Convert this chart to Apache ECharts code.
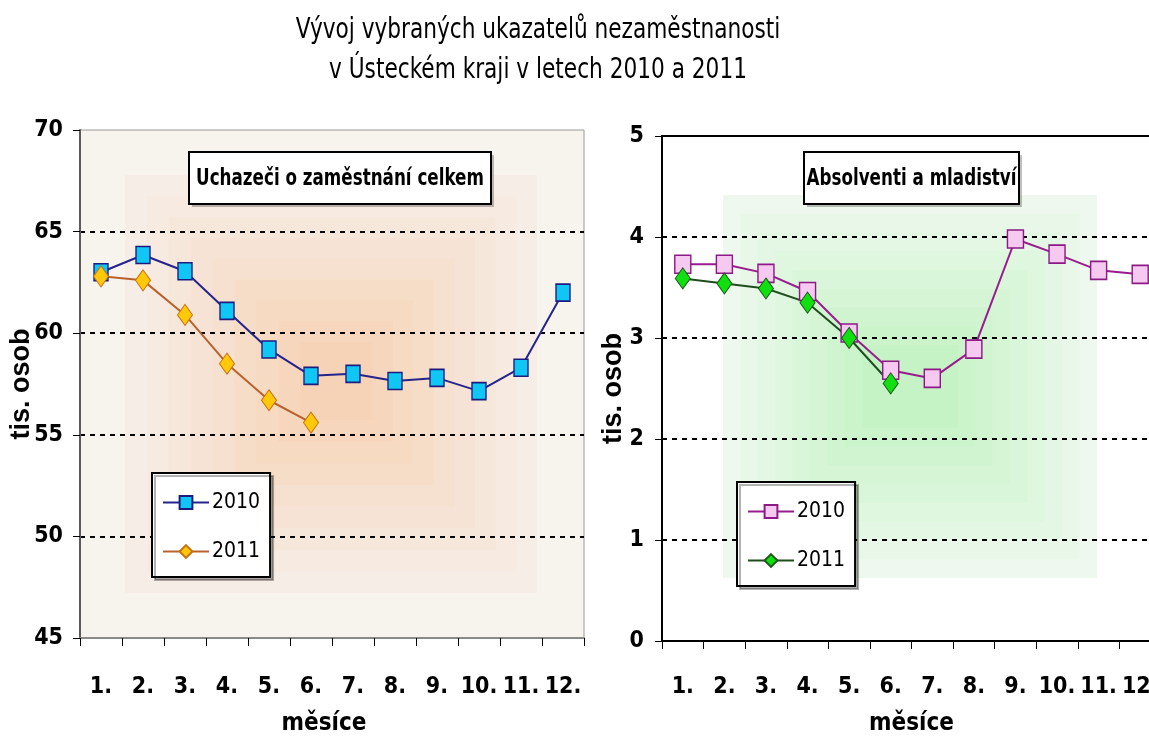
<!DOCTYPE html>
<html lang="cs">
<head>
<meta charset="UTF-8">
<title>Vývoj vybraných ukazatelů nezaměstnanosti</title>
<script src="https://cdn.jsdelivr.net/npm/echarts@6/dist/echarts.min.js"></script>
<style>
  html, body { margin: 0; padding: 0; background: #fff; }
  #chart { width: 1149px; height: 737px; }
</style>
</head>
<body>
<div id="chart"></div>
<script>
// data (tis. osob)
const months = ['1.', '2.', '3.', '4.', '5.', '6.', '7.', '8.', '9.', '10.', '11.', '12.'];
const uchazeci2010 = [63.0, 63.85, 63.05, 61.1, 59.2, 57.9, 58.0, 57.65, 57.8, 57.15, 58.3, 62.0];
const uchazeci2011 = [62.8, 62.6, 60.9, 58.5, 56.7, 55.6];
const absolventi2010 = [3.73, 3.73, 3.64, 3.46, 3.05, 2.68, 2.60, 2.89, 3.98, 3.83, 3.67, 3.63];
const absolventi2011 = [3.59, 3.54, 3.49, 3.35, 3.00, 2.55];

const narrow = "'Liberation Sans Narrow', 'DejaVu Sans Condensed', 'Liberation Sans', sans-serif";

// plot boxes
const L = { x: 80, y: 130, w: 504, h: 508 };
const R = { x: 662, y: 136, w: 499, h: 505 };

function mix(a, b, t) {
  const pa = [1, 3, 5].map(i => parseInt(a.substr(i, 2), 16));
  const pb = [1, 3, 5].map(i => parseInt(b.substr(i, 2), 16));
  return 'rgb(' + pa.map((v, i) => Math.round(v + (pb[i] - v) * t)).join(',') + ')';
}

// stepped "rectangle gradient" fill like the old office charts
function nested(outer, inner, c0, c1, n) {
  const out = [];
  for (let i = 0; i < n; i++) {
    const t = i / (n - 1);
    const x0 = outer[0] + (inner[0] - outer[0]) * t;
    const y0 = outer[1] + (inner[1] - outer[1]) * t;
    const x1 = outer[2] + (inner[2] - outer[2]) * t;
    const y1 = outer[3] + (inner[3] - outer[3]) * t;
    out.push({
      type: 'rect', z: -10, silent: true,
      shape: { x: x0, y: y0, width: x1 - x0, height: y1 - y0 },
      style: { fill: mix(c0, c1, t) }
    });
  }
  return out;
}

function box(x, y, w, h, text) {
  return {
    type: 'group', z: 20,
    children: [
      { type: 'rect', shape: { x: x + 3, y: y + 3, width: w, height: h }, style: { fill: 'rgba(0,0,0,0.25)' } },
      { type: 'rect', shape: { x: x, y: y, width: w, height: h }, style: { fill: '#fff', stroke: '#000', lineWidth: 2 } },
      { type: 'text', x: x + w / 2, y: y + h / 2 + 1, scaleX: 0.81,
        style: { text: text, font: 'bold 23px ' + narrow, fill: '#000', align: 'center', verticalAlign: 'middle' } }
    ]
  };
}

const graphics = [].concat(
  [{ type: 'rect', z: -11, silent: true, shape: { x: L.x, y: L.y, width: L.w, height: L.h }, style: { fill: '#f6f4ec' } }],
  nested([125, 175, 537, 593], [300, 342, 372, 420], '#f6ede7', '#f6d3b6', 9),
  nested([723, 195, 1097, 578], [862, 345, 958, 428], '#eef8ee', '#c6f3c6', 9),
  [
    { type: 'text', x: 538, y: 11, z: 20, scaleX: 0.86,
      style: { text: 'Vývoj vybraných ukazatelů nezaměstnanosti\nv Ústeckém kraji v letech 2010 a 2011',
        font: '28px ' + narrow, fill: '#000', align: 'center', lineHeight: 40 } },
    box(189, 152, 302, 52, 'Uchazeči o zaměstnání celkem'),
    box(804, 152, 215, 52, 'Absolventi a mladiství')
  ]
);

const tickFont = { fontFamily: narrow, fontWeight: 'bold', fontSize: 23, color: '#000' };
const nameFont = { fontFamily: "'Liberation Sans', Arial, sans-serif", fontWeight: 'bold', fontSize: 27, color: '#000' };
const monthName = { fontFamily: narrow, fontWeight: 'bold', fontSize: 24, color: '#000' };
const dashed = { show: true, showMinLine: false, showMaxLine: false, lineStyle: { type: [5, 5], color: '#000', width: 2 } };

function legend(x, y, names) {
  return {
    orient: 'vertical', left: x, top: y, data: names,
    backgroundColor: '#fff', borderColor: '#000', borderWidth: 2,
    padding: [19, 10, 15, 10], itemGap: 28, itemWidth: 46, itemHeight: 16,
    shadowColor: 'rgba(0,0,0,0.3)', shadowOffsetX: 3, shadowOffsetY: 3, shadowBlur: 0,
    formatter: n => n.slice(-4),
    textStyle: { fontFamily: narrow, fontSize: 21, color: '#000', padding: [0, 0, 0, -2] }
  };
}

const option = {
  animation: false,
  graphic: graphics,
  legend: [
    legend(152, 473, ['U 2010', 'U 2011']),
    legend(737, 482, ['A 2010', 'A 2011'])
  ],
  grid: [
    { left: L.x, top: L.y, width: L.w, height: L.h, show: true, borderColor: '#9a9a9a', borderWidth: 1, outerBoundsMode: 'none', containLabel: false },
    { left: R.x, top: R.y, width: R.w, height: R.h, show: true, borderColor: '#000', borderWidth: 2, outerBoundsMode: 'none', containLabel: false }
  ],
  xAxis: [
    { gridIndex: 0, type: 'category', data: months, boundaryGap: true,
      name: 'měsíce', nameLocation: 'middle', nameGap: 74, nameMoveOverlap: false,
      nameTextStyle: Object.assign({ padding: [0, 16, 0, 0] }, monthName),
      axisLine: { lineStyle: { color: '#8a8a8a', width: 2 } },
      axisTick: { show: true, length: 8, lineStyle: { color: '#000', width: 1 } },
      axisLabel: Object.assign({ margin: 38, interval: 0 }, tickFont) },
    { gridIndex: 1, type: 'category', data: months, boundaryGap: true,
      name: 'měsíce', nameLocation: 'middle', nameGap: 71, nameMoveOverlap: false,
      nameTextStyle: monthName,
      axisLine: { lineStyle: { color: '#000', width: 2 } },
      axisTick: { show: true, length: 8, lineStyle: { color: '#000', width: 1 } },
      axisLabel: Object.assign({ margin: 35, interval: 0 }, tickFont) }
  ],
  yAxis: [
    { gridIndex: 0, type: 'value', min: 45, max: 70, interval: 5,
      name: 'tis. osob', nameLocation: 'middle', nameGap: 45, nameMoveOverlap: false, nameTextStyle: nameFont,
      axisLine: { show: true, lineStyle: { color: '#5a5a5a', width: 2 } },
      axisTick: { show: true, length: 7, lineStyle: { color: '#000' } },
      axisLabel: Object.assign({ margin: 17 }, tickFont),
      splitLine: dashed },
    { gridIndex: 1, type: 'value', min: 0, max: 5, interval: 1,
      name: 'tis. osob', nameLocation: 'middle', nameGap: 35, nameMoveOverlap: false, nameTextStyle: nameFont,
      axisLine: { show: true, lineStyle: { color: '#000', width: 2 } },
      axisTick: { show: true, length: 7, lineStyle: { color: '#000' } },
      axisLabel: Object.assign({ margin: 18 }, tickFont),
      splitLine: dashed }
  ],
  series: [
    { name: 'U 2010', type: 'line', xAxisIndex: 0, yAxisIndex: 0, data: uchazeci2010,
      symbol: 'rect', symbolSize: [14, 17],
      lineStyle: { color: '#26248c', width: 2 },
      itemStyle: { color: '#10c6f5', borderColor: '#1c1c80', borderWidth: 1.5 } },
    { name: 'U 2011', type: 'line', xAxisIndex: 0, yAxisIndex: 0, data: uchazeci2011,
      symbol: 'diamond', symbolSize: [15, 21],
      lineStyle: { color: '#b8622e', width: 2 },
      itemStyle: { color: '#ffc808', borderColor: '#c87010', borderWidth: 1 } },
    { name: 'A 2010', type: 'line', xAxisIndex: 1, yAxisIndex: 1, data: absolventi2010,
      symbol: 'rect', symbolSize: [16, 18],
      lineStyle: { color: '#981c8e', width: 2 },
      itemStyle: { color: '#f6c9f0', borderColor: '#8c1a84', borderWidth: 1.5 } },
    { name: 'A 2011', type: 'line', xAxisIndex: 1, yAxisIndex: 1, data: absolventi2011,
      symbol: 'diamond', symbolSize: [15, 21],
      lineStyle: { color: '#1e4e1e', width: 2 },
      itemStyle: { color: '#10e010', borderColor: '#1a5a1a', borderWidth: 1 } }
  ]
};

const chart = echarts.init(document.getElementById('chart'));
chart.setOption(option);
</script>
</body>
</html>
